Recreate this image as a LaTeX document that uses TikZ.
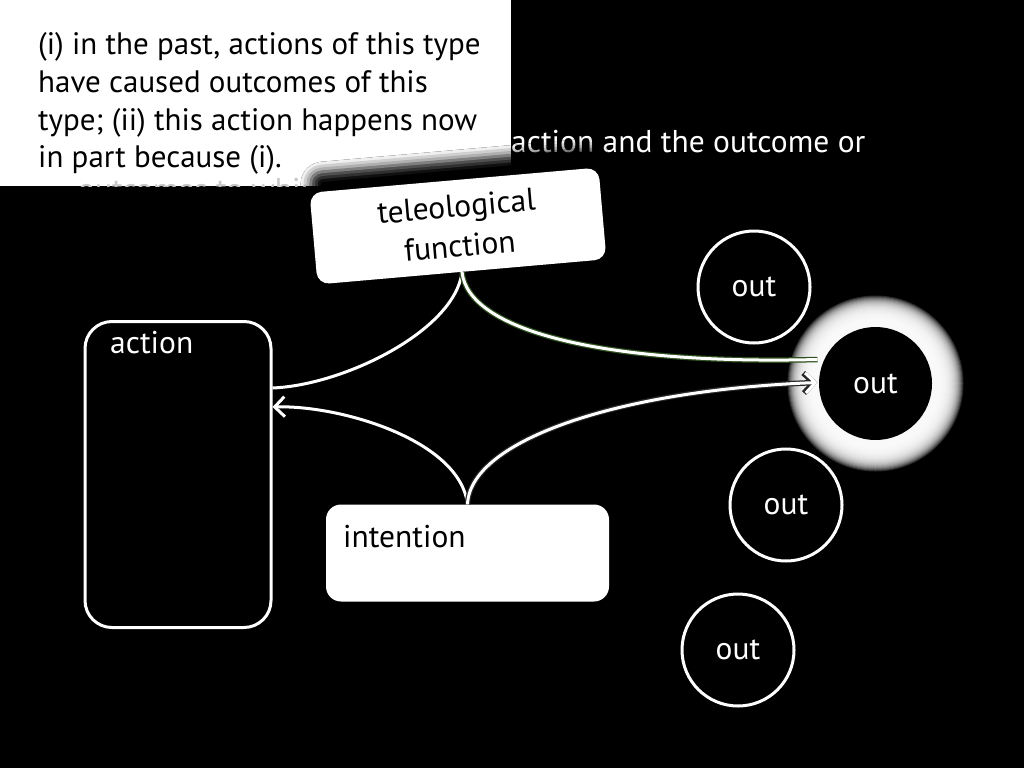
\documentclass[tikz,border=0pt]{standalone}
\usepackage{fontspec}
\setmainfont{PT Sans}
\usetikzlibrary{arrows.meta,shadows.blur}
\definecolor{halogreen}{RGB}{45,80,30}
\begin{document}
\begin{tikzpicture}[x=1pt,y=-1pt,
  txt/.style={font=\fontsize{31.5}{36}\selectfont, inner sep=0pt},
  conn/.style={draw=white, line width=3pt},
  arr/.style={-{Straight Barb[length=10pt,width=20pt]}},
  outc/.style={circle, draw=white, line width=3pt, minimum size=112pt, text=white, font=\fontsize{31.5}{36}\selectfont, inner sep=0pt}]
\useasboundingbox (0,0) rectangle (1024,768);
\clip (0,0) rectangle (1024,768);
\fill[black] (0,0) rectangle (1024,768);
% background text
\node[txt, text=white, anchor=base west] (bgA) at (511,152) {action and the outcome or};
% definition box
\node[fill=white, rounded corners=12pt, minimum width=541pt, minimum height=216pt, anchor=south east, inner sep=0pt] (defbox) at (511,186) {};
\begin{scope}
\clip (78,150) rectangle (305,186);
\node[txt, text=black!22, anchor=base west] (bgB) at (78,200) {outcomes to which};
\end{scope}
\node[txt, text=black, anchor=base west] (deftext) at (38,55) {\parbox[t]{600pt}{\raggedright\fontsize{31}{37.5}\selectfont (i) in the past, actions of this type\\ have caused outcomes of this\\ type; (ii) this action happens now\\ in part because (i).}};
% teleological function
\node[fill=white, rounded corners=12pt, minimum width=290pt, minimum height=92pt, rotate=5, align=center, txt, text=black, blur shadow={shadow xshift=0pt, shadow yshift=20pt, shadow blur radius=10pt, shadow opacity=100}] (tf) at (458,226) {teleological\\[4pt]function};
% action
\node[draw=white, line width=3pt, rounded corners=27pt, minimum width=186pt, minimum height=306pt] (action) at (178,474.5) {};
\node[txt, text=white, anchor=base west] (actlbl) at (110,353) {action};
% intention
\node[fill=white, rounded corners=15pt, minimum width=283pt, minimum height=97pt] (intent) at (467.5,553) {};
\node[txt, text=black, anchor=base west] (intlbl) at (343,547) {intention};
% outcomes
\coordinate (gc) at (875.5,383.5);
\foreach \i in {0,...,30} {\fill[white, opacity=0.16] (gc) circle ({58+\i});}
\node[outc] (o1) at (754,287) {out};
\node[outc, fill=black, draw=none, minimum size=113pt] (o2) at (gc) {out};
\node[outc] (o3) at (786,505) {out};
\node[outc] (o4) at (738,650) {out};
% connectors
\draw[conn] (tf.south) .. controls (455,330) and (345,385) .. ([yshift=86.5pt]action.east);
\draw[conn, preaction={draw=halogreen, line width=5.5pt}] (tf.south) .. controls (468,330) and (600,365) .. ([yshift=24pt]o2.west);
\draw[conn, arr] (intent.north) .. controls (460,440) and (340,405) .. ([yshift=67.5pt]action.east);
\draw[conn, arr, preaction={draw=black!85, line width=5.5pt}] (intent.north) .. controls (470,440) and (620,390) .. ([yshift=1pt]o2.west);
\end{tikzpicture}
\end{document}
